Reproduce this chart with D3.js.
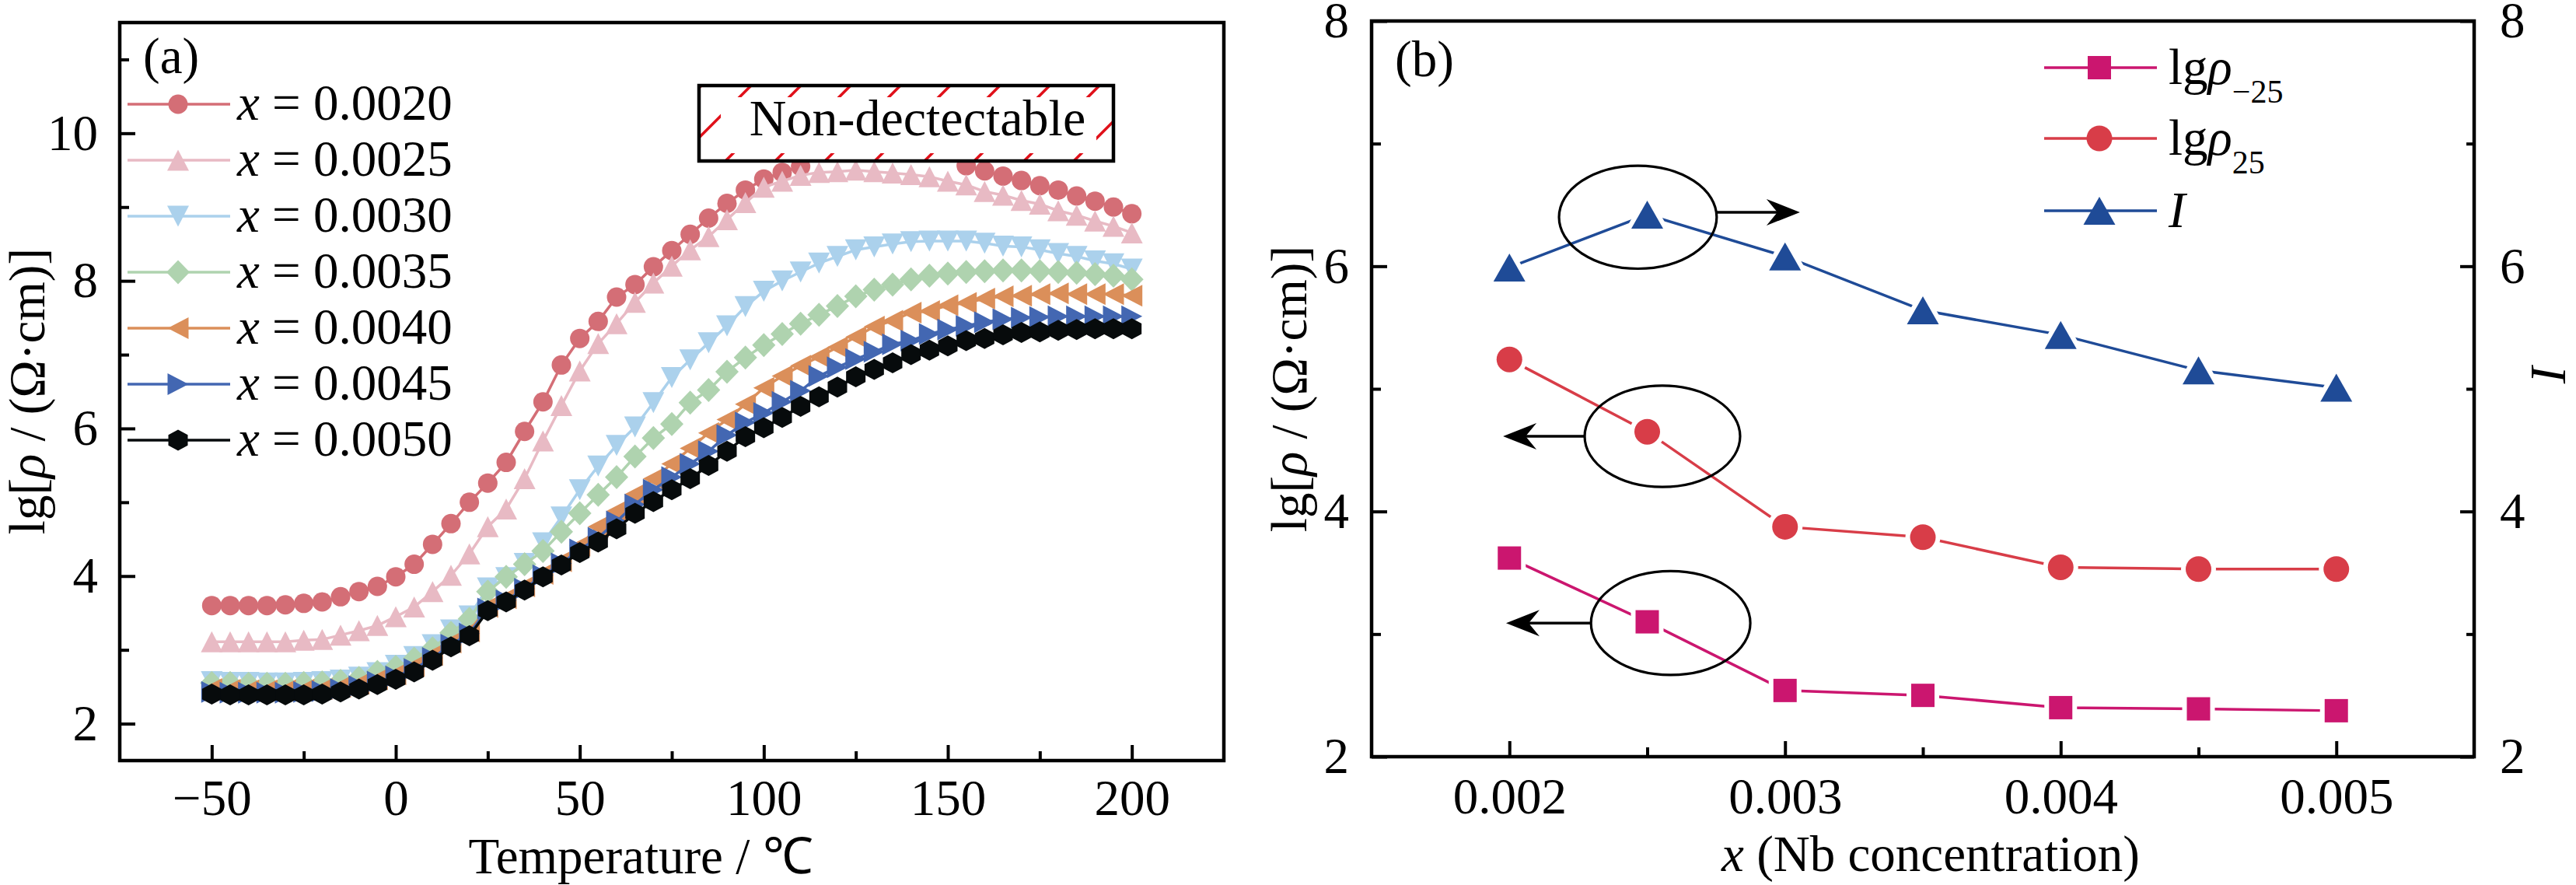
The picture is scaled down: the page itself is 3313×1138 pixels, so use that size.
<!DOCTYPE html>
<html><head><meta charset="utf-8">
<script src="https://cdn.jsdelivr.net/npm/d3@7"></script>
<style>
html,body{margin:0;padding:0;background:#fff;}
svg{display:block;}
text{font-family:"Liberation Serif","Times New Roman",serif;white-space:pre;}
</style>
</head><body>
<svg id="c" width="3313" height="1138"></svg>
<script>
// ---------------- DATA ----------------
const temps = [-50,-45,-40,-35,-30,-25,-20,-15,-10,-5,0,5,10,15,20,25,30,35,40,45,50,55,60,65,70,75,80,85,90,95,100,105,110,115,120,125,130,135,140,145,150,155,160,165,170,175,180,185,190,195,200];
const seriesNames = ["0.0020","0.0025","0.0030","0.0035","0.0040","0.0045","0.0050"];
const rho0020 = [3.60,3.60,3.60,3.60,3.61,3.63,3.65,3.72,3.79,3.86,3.99,4.16,4.43,4.71,5.00,5.26,5.54,5.96,6.36,6.86,7.22,7.45,7.78,7.95,8.19,8.41,8.63,8.85,9.05,9.23,9.38,9.47,9.55,null,null,null,null,null,null,null,null,9.56,9.49,9.42,9.36,9.29,9.23,9.15,9.08,9.00,8.91];
const rho0025 = [3.11,3.11,3.11,3.11,3.11,3.13,3.14,3.20,3.26,3.33,3.45,3.58,3.79,4.01,4.30,4.67,4.91,5.32,5.83,6.31,6.78,7.15,7.42,7.71,7.97,8.20,8.42,8.60,8.83,9.06,9.27,9.35,9.43,9.47,9.48,9.50,9.48,9.46,9.44,9.41,9.35,9.30,9.21,9.16,9.09,9.04,8.95,8.89,8.81,8.74,8.65];
const rho0030 = [2.57,2.56,2.56,2.55,2.55,2.56,2.57,2.59,2.63,2.69,2.79,2.91,3.07,3.27,3.46,3.84,3.98,4.17,4.45,4.80,5.17,5.49,5.77,6.02,6.35,6.69,6.93,7.16,7.39,7.65,7.86,8.00,8.12,8.24,8.33,8.42,8.46,8.50,8.53,8.54,8.54,8.54,8.51,8.47,8.46,8.42,8.37,8.33,8.27,8.23,8.16];
const rho0035 = [2.55,2.55,2.54,2.54,2.54,2.55,2.56,2.58,2.62,2.70,2.77,2.88,3.02,3.23,3.42,3.79,3.99,4.16,4.34,4.60,4.85,5.10,5.34,5.62,5.87,6.06,6.35,6.52,6.77,6.96,7.13,7.28,7.42,7.54,7.66,7.79,7.88,7.95,8.02,8.07,8.10,8.12,8.13,8.14,8.14,8.13,8.12,8.11,8.09,8.07,8.02];
const rho0040 = [2.47,2.46,2.45,2.45,2.45,2.46,2.47,2.50,2.54,2.60,2.67,2.78,2.93,3.10,3.25,3.58,3.70,3.86,4.03,4.20,4.41,4.67,4.88,5.11,5.32,5.52,5.73,5.94,6.12,6.33,6.55,6.71,6.85,6.97,7.10,7.24,7.38,7.46,7.57,7.59,7.67,7.70,7.76,7.79,7.80,7.82,7.83,7.82,7.82,7.82,7.80];
const rho0045 = [2.43,2.42,2.42,2.42,2.42,2.43,2.44,2.47,2.51,2.57,2.64,2.74,2.89,3.07,3.22,3.56,3.67,3.83,4.01,4.17,4.36,4.52,4.74,4.97,5.17,5.34,5.52,5.69,5.91,6.08,6.21,6.36,6.51,6.71,6.83,6.94,7.04,7.14,7.19,7.28,7.34,7.39,7.44,7.48,7.50,7.51,7.52,7.52,7.52,7.52,7.52];
const rho0050 = [2.40,2.39,2.39,2.39,2.39,2.39,2.40,2.43,2.47,2.53,2.60,2.70,2.86,3.04,3.19,3.53,3.65,3.81,3.99,4.15,4.32,4.46,4.64,4.85,5.01,5.17,5.32,5.50,5.69,5.89,6.01,6.15,6.30,6.43,6.56,6.70,6.80,6.89,7.00,7.06,7.12,7.19,7.22,7.27,7.30,7.31,7.33,7.34,7.35,7.35,7.35];

const nbConc = [0.0020,0.0025,0.0030,0.0035,0.0040,0.0045,0.0050];
const lgRhoM25 = [3.62,3.10,2.54,2.50,2.40,2.39,2.375];
const lgRho25  = [5.24,4.65,3.875,3.79,3.545,3.53,3.53];
const indexI   = [5.99,6.42,6.08,5.64,5.44,5.15,5.01];

const aXTicks = [-50,0,50,100,150,200];
const aXMinor = [-25,25,75,125,175];
const aYTicks = [2,4,6,8,10];
const aYMinor = [3,5,7,9,11];
const bXTicks = [0.002,0.003,0.004,0.005];
const bXMinor = [0.0025,0.0035,0.0045];
const bYTicks = [2,4,6,8];
const bYMinor = [3,5,7];

// ---------------- STYLE ----------------
const FS = 65;
const aColors = ["#D46E76","#E8BAC4","#ABD1EC","#AFD3AF","#DB8F5A","#4367B2","#070B0C"];
const bColors = {m25:"#CB166F", p25:"#D83D48", I:"#1F4B97"};

function circ(r){return `M${-r},0A${r},${r} 0 1,0 ${r},0A${r},${r} 0 1,0 ${-r},0Z`;}
function tri(dir,w,h){
  if(dir==="up") return `M0,${-h/2}L${w/2},${h/2}L${-w/2},${h/2}Z`;
  if(dir==="down") return `M0,${h/2}L${w/2},${-h/2}L${-w/2},${-h/2}Z`;
  if(dir==="left") return `M${-h/2},0L${h/2},${-w/2}L${h/2},${w/2}Z`;
  return `M${h/2},0L${-h/2},${-w/2}L${-h/2},${w/2}Z`;
}
function diamond(w,h){return `M0,${-h/2}L${w/2},0L0,${h/2}L${-w/2},0Z`;}
function hex(hw,hh){return `M0,${-hh}L${hw},${-hh/2}L${hw},${hh/2}L0,${hh}L${-hw},${hh/2}L${-hw},${-hh/2}Z`;}
function square(s){return `M${-s/2},${-s/2}H${s/2}V${s/2}H${-s/2}Z`;}

const aSymbols = [circ(12.5), tri("up",28,27), tri("down",28,27), diamond(30,31), tri("left",28,27), tri("right",28,27), hex(12.5,13.5)];

const svg = d3.select("#c");

// ================= PANEL (a) =================
const aL=154, aR=1574, aT=29, aB=978;
const xa = d3.scaleLinear().domain([-75,225]).range([aL,aR]);
const ya = d3.scaleLinear().domain([1.5,11.5]).range([aB,aT]);
const aSeries = [rho0020,rho0025,rho0030,rho0035,rho0040,rho0045,rho0050];

const gA = svg.append("g");
aSeries.forEach((vals,i)=>{
  const pts = temps.map((t,j)=>[t,vals[j]]);
  const line = d3.line().defined(d=>d[1]!=null).x(d=>xa(d[0])).y(d=>ya(d[1]));
  gA.append("path").attr("d",line(pts)).attr("fill","none").attr("stroke",aColors[i]).attr("stroke-width",3.5);
  gA.selectAll(null).data(pts.filter(d=>d[1]!=null)).enter().append("path")
    .attr("d",aSymbols[i]).attr("transform",d=>`translate(${xa(d[0])},${ya(d[1])})`).attr("fill",aColors[i]);
});

// Non-detectable box
const box = {x:899,y:110,w:533,h:97};
svg.append("defs").append("clipPath").attr("id","boxclip").append("rect")
  .attr("x",box.x).attr("y",box.y).attr("width",box.w).attr("height",box.h);
const gBox = svg.append("g");
gBox.append("rect").attr("x",box.x).attr("y",box.y).attr("width",box.w).attr("height",box.h).attr("fill","#fff");
const gH = gBox.append("g").attr("clip-path","url(#boxclip)");
for(let c=1012;c<=1650;c+=64){
  gH.append("line").attr("x1",c-100).attr("y1",100).attr("x2",c-220).attr("y2",220).attr("stroke","#E0101A").attr("stroke-width",3.5);
}
gBox.append("rect").attr("x",927).attr("y",125).attr("width",483).attr("height",72).attr("fill","#fff");
gBox.append("rect").attr("x",box.x).attr("y",box.y).attr("width",box.w).attr("height",box.h).attr("fill","none").attr("stroke","#000").attr("stroke-width",4.5);
gBox.append("text").attr("x",1180).attr("y",174).attr("text-anchor","middle").attr("font-size",66).text("Non-dectectable");

// frame
svg.append("rect").attr("x",aL).attr("y",aT).attr("width",aR-aL).attr("height",aB-aT).attr("fill","none").attr("stroke","#000").attr("stroke-width",4.5);

function styleAxis(g){
  g.select(".domain").remove();
  g.selectAll("line").attr("stroke","#000").attr("stroke-width",4);
  g.selectAll("text").attr("font-size",FS).attr("font-family",'"Liberation Serif","Times New Roman",serif').attr("fill","#000");
}
const axA_x = svg.append("g").attr("transform",`translate(0,${aB})`)
  .call(d3.axisBottom(xa).tickValues(aXTicks).tickSize(-20).tickPadding(24).tickFormat(d3.format("d")));
styleAxis(axA_x);
const axA_xm = svg.append("g").attr("transform",`translate(0,${aB})`)
  .call(d3.axisBottom(xa).tickValues(aXMinor).tickSize(-12).tickFormat(""));
styleAxis(axA_xm);
const axA_y = svg.append("g").attr("transform",`translate(${aL},0)`)
  .call(d3.axisLeft(ya).tickValues(aYTicks).tickSize(-20).tickPadding(28).tickFormat(d3.format("d")));
styleAxis(axA_y);
const axA_ym = svg.append("g").attr("transform",`translate(${aL},0)`)
  .call(d3.axisLeft(ya).tickValues(aYMinor).tickSize(-12).tickFormat(""));
styleAxis(axA_ym);

// titles
svg.append("text").attr("x",824).attr("y",1123).attr("text-anchor","middle").attr("font-size",FS).text("Temperature / ℃");
const tA = svg.append("text").attr("transform","translate(57,503) rotate(-90)").attr("text-anchor","middle").attr("font-size",FS);
tA.append("tspan").text("lg[");
tA.append("tspan").attr("font-style","italic").text("ρ");
tA.append("tspan").text(" / (Ω·cm)]");
svg.append("text").attr("x",184).attr("y",94).attr("font-size",FS).text("(a)");

// legend (a)
seriesNames.forEach((nm,i)=>{
  const yy = 134 + 72*i;
  svg.append("line").attr("x1",164).attr("x2",296).attr("y1",yy).attr("y2",yy).attr("stroke",aColors[i]).attr("stroke-width",3.5);
  svg.append("path").attr("d",aSymbols[i]).attr("transform",`translate(229,${yy})`).attr("fill",aColors[i]);
  const t = svg.append("text").attr("x",305).attr("y",yy+20).attr("font-size",FS);
  t.append("tspan").attr("font-style","italic").text("x");
  t.append("tspan").text(" = " + nm);
});

// ================= PANEL (b) =================
const bL=1764, bR=3182, bT=27, bB=973;
const xb = d3.scaleLinear().domain([0.0015,0.0055]).range([bL,bR]);
const yb = d3.scaleLinear().domain([2,8]).range([bB,bT]);
const yR = d3.scaleLinear().domain([2,8]).range([bB,bT]);

const bSeries = [
  {vals:lgRhoM25, color:bColors.m25, sym:square(30), scale:yb},
  {vals:lgRho25,  color:bColors.p25, sym:circ(16.5), scale:yb},
  {vals:indexI,   color:bColors.I,   sym:tri("up",41,36), scale:yR}
];
const gB = svg.append("g");
bSeries.forEach(s=>{
  const pts = nbConc.map((c,j)=>[c,s.vals[j]]);
  const line = d3.line().x(d=>xb(d[0])).y(d=>s.scale(d[1]));
  gB.append("path").attr("d",line(pts)).attr("fill","none").attr("stroke",s.color).attr("stroke-width",3.5);
  gB.selectAll(null).data(pts).enter().append("path")
    .attr("d",s.sym).attr("transform",d=>`translate(${xb(d[0])},${s.scale(d[1])})`)
    .attr("fill","#fff").attr("stroke","#fff").attr("stroke-width",12);
  gB.selectAll(null).data(pts).enter().append("path")
    .attr("d",s.sym).attr("transform",d=>`translate(${xb(d[0])},${s.scale(d[1])})`)
    .attr("fill",s.color);
});

// annotations: ellipses + arrows (data coordinates)
const notes = [
  {cx:0.002466, cy:6.40, rx:0.000286, ry:0.42, y:6.44, from:0.002752, to:0.003054, sc:yR},
  {cx:0.002555, cy:4.613, rx:0.000282, ry:0.413, y:4.613, from:0.002276, to:0.001977, sc:yb},
  {cx:0.002585, cy:3.09, rx:0.000289, ry:0.423, y:3.09, from:0.002295, to:0.001988, sc:yb}
];
notes.forEach(n=>{
  const pxr = xb(n.cx+n.rx)-xb(n.cx), pyr = n.sc(n.cy-n.ry)-n.sc(n.cy);
  svg.append("ellipse").attr("cx",xb(n.cx)).attr("cy",n.sc(n.cy)).attr("rx",pxr).attr("ry",pyr)
    .attr("fill","none").attr("stroke","#000").attr("stroke-width",3.2);
  const x0 = xb(n.from), x1 = xb(n.to), yy = n.sc(n.y), d = x1>x0?1:-1;
  svg.append("line").attr("x1",x0).attr("x2",x1-d*25).attr("y1",yy).attr("y2",yy).attr("stroke","#000").attr("stroke-width",3.5);
  svg.append("path").attr("d",`M${x1},${yy}L${x1-d*43},${yy-17}L${x1-d*29},${yy}L${x1-d*43},${yy+17}Z`).attr("fill","#000");
});

// frame (b)
svg.append("rect").attr("x",bL).attr("y",bT).attr("width",bR-bL).attr("height",bB-bT).attr("fill","none").attr("stroke","#000").attr("stroke-width",4.5);

const axB_x = svg.append("g").attr("transform",`translate(0,${bB})`)
  .call(d3.axisBottom(xb).tickValues(bXTicks).tickSize(-20).tickPadding(27).tickFormat(d3.format(".3f")));
styleAxis(axB_x);
const axB_xm = svg.append("g").attr("transform",`translate(0,${bB})`)
  .call(d3.axisBottom(xb).tickValues(bXMinor).tickSize(-12).tickFormat(""));
styleAxis(axB_xm);
const axB_y = svg.append("g").attr("transform",`translate(${bL},0)`)
  .call(d3.axisLeft(yb).tickValues(bYTicks).tickSize(-20).tickPadding(29).tickFormat(d3.format("d")));
styleAxis(axB_y);
const axB_ym = svg.append("g").attr("transform",`translate(${bL},0)`)
  .call(d3.axisLeft(yb).tickValues(bYMinor).tickSize(-12).tickFormat(""));
styleAxis(axB_ym);
const axB_r = svg.append("g").attr("transform",`translate(${bR},0)`)
  .call(d3.axisRight(yR).tickValues(bYTicks).tickSize(-18).tickPadding(33).tickFormat(d3.format("d")));
styleAxis(axB_r);
const axB_rm = svg.append("g").attr("transform",`translate(${bR},0)`)
  .call(d3.axisRight(yR).tickValues(bYMinor).tickSize(-10).tickFormat(""));
styleAxis(axB_rm);

// titles (b)
const tBx = svg.append("text").attr("x",2483).attr("y",1120).attr("text-anchor","middle").attr("font-size",FS);
tBx.append("tspan").attr("font-style","italic").text("x");
tBx.append("tspan").text(" (Nb concentration)");
const tBy = svg.append("text").attr("transform","translate(1680,500) rotate(-90)").attr("text-anchor","middle").attr("font-size",FS);
tBy.append("tspan").text("lg[");
tBy.append("tspan").attr("font-style","italic").text("ρ");
tBy.append("tspan").text(" / (Ω·cm)]");
svg.append("text").attr("transform","translate(3256,480) rotate(90)").attr("text-anchor","middle").attr("font-size",FS).attr("font-style","italic").text("I");
svg.append("text").attr("x",1794).attr("y",98).attr("font-size",FS).text("(b)");

// legend (b)
const bLegend = [
  {main:"lg", it:"ρ", sub:"−25", color:bColors.m25, sym:square(30)},
  {main:"lg", it:"ρ", sub:"25", color:bColors.p25, sym:circ(16.5)},
  {main:"", it:"I", sub:"", color:bColors.I, sym:tri("up",41,36)}
];
bLegend.forEach((e,i)=>{
  const yy = [87,178,271][i];
  svg.append("line").attr("x1",2629).attr("x2",2774).attr("y1",yy).attr("y2",yy).attr("stroke",e.color).attr("stroke-width",3.5);
  svg.append("path").attr("d",e.sym).attr("transform",`translate(2700,${yy})`).attr("fill",e.color);
  const t = svg.append("text").attr("x",2789).attr("y",yy+21).attr("font-size",FS);
  if(e.main) t.append("tspan").text(e.main);
  t.append("tspan").attr("font-style","italic").text(e.it);
  if(e.sub) t.append("tspan").attr("font-size",42).attr("dy",24).text(e.sub);
});
</script>
</body></html>
